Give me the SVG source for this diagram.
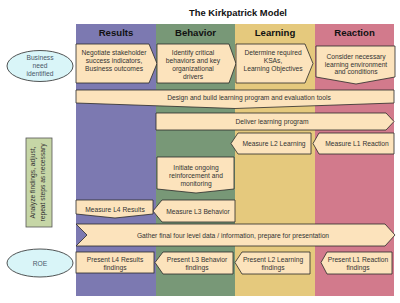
<svg xmlns="http://www.w3.org/2000/svg" width="400" height="303" viewBox="0 0 400 303">
<style>
.box{fill:#FCE3BC;stroke:#2a2a2a;stroke-width:0.8;stroke-linejoin:miter}
.t{font-family:"Liberation Sans",Arial,sans-serif;font-size:6.7px;fill:#333;text-anchor:middle}
.h{font-family:"Liberation Sans",Arial,sans-serif;font-size:9.6px;font-weight:bold;fill:#111;text-anchor:middle}
.ell{fill:#D9F5F8;stroke:#2a2a2a;stroke-width:0.8}
.et{font-family:"Liberation Sans",Arial,sans-serif;font-size:6.7px;fill:#4a5868;text-anchor:middle}
</style>
<rect width="400" height="303" fill="#fff"/>
<text x="238" y="16" font-family="Liberation Sans, Arial, sans-serif" font-size="9.4" font-weight="bold" fill="#111" text-anchor="middle">The Kirkpatrick Model</text>

<g id="columns">
<rect x="76" y="24" width="80" height="272" fill="#7C79B1"/>
<rect x="156" y="24" width="79" height="272" fill="#789877"/>
<rect x="235" y="24" width="80" height="272" fill="#E5C97D"/>
<rect x="315" y="24" width="79" height="272" fill="#D27A8C"/>
<text class="h" x="116" y="36">Results</text>
<text class="h" x="195.5" y="36">Behavior</text>
<text class="h" x="275" y="36">Learning</text>
<text class="h" x="354.5" y="36">Reaction</text>
</g>

<g id="business-need">
<ellipse class="ell" cx="40" cy="66" rx="33" ry="15.5"/>
<text class="et" x="40" y="59.5">Business</text>
<text class="et" x="40" y="67.5">need</text>
<text class="et" x="40" y="75.5">identified</text>
</g>

<g id="analyze">
<rect x="26" y="138" width="26" height="89" fill="#C6D6A6" stroke="#555" stroke-width="0.8"/>
<g transform="translate(39,182.5) rotate(-90)">
<text class="t" x="0" y="-4">Analyze findings, adjust,</text>
<text class="t" x="0" y="5.5">repeat steps as necessary</text>
</g>
</g>

<g id="roe">
<ellipse class="ell" cx="40" cy="263" rx="33" ry="14"/>
<text class="et" x="40" y="265.5">ROE</text>
</g>

<g id="negotiate">
<path class="box" d="M76,44 H149 L157,63.5 L149,83 H76 Z"/>
<text class="t" x="114" y="54.5">Negotiate stakeholder</text>
<text class="t" x="114" y="62.5">success indicators,</text>
<text class="t" x="114" y="70.5">Business outcomes</text>
</g>

<g id="identify">
<path class="box" d="M157,44 H229 L236,63.5 L229,83 H157 Z"/>
<text class="t" x="193" y="54.5">Identify critical</text>
<text class="t" x="193" y="62.5">behaviors and key</text>
<text class="t" x="193" y="70.5">organizational</text>
<text class="t" x="193" y="78.5">drivers</text>
</g>

<g id="determine">
<path class="box" d="M236,44 H305 L313,63.5 L305,83 H236 Z"/>
<text class="t" x="273" y="54.5">Determine required</text>
<text class="t" x="273" y="62.5">KSAs,</text>
<text class="t" x="273" y="70.5">Learning Objectives</text>
</g>

<g id="consider">
<path class="box" d="M316,46 H395 V77 L356,84 L316,77 Z"/>
<text class="t" x="356" y="59">Consider necessary</text>
<text class="t" x="356" y="66.5">learning environment</text>
<text class="t" x="356" y="74">and conditions</text>
</g>

<g id="design">
<path class="box" d="M76,90 H394 V103 L235,108.5 L76,103 Z"/>
<text class="t" x="249" y="100">Design and build learning program and evaluation tools</text>
</g>

<g id="deliver">
<path class="box" d="M156,113 H386 L394,121.5 L386,130 H156 Z"/>
<text class="t" x="272" y="124">Deliver learning program</text>
</g>

<g id="measure-l2">
<path class="box" d="M231,143.5 L238,133 H311 V154 H238 Z"/>
<text class="t" x="274" y="146">Measure L2 Learning</text>
</g>

<g id="measure-l1">
<path class="box" d="M313,143.5 L319,133 H394 V154 H319 Z"/>
<text class="t" x="357" y="146">Measure L1 Reaction</text>
</g>

<g id="initiate">
<path class="box" d="M157,157 H234 V189 L196,193 L157,189 Z"/>
<text class="t" x="196" y="169.5">Initiate ongoing</text>
<text class="t" x="196" y="177.5">reinforcement and</text>
<text class="t" x="196" y="186">monitoring</text>
</g>

<g id="measure-l4">
<path class="box" d="M76,200 H153 V214 L115,218 L76,214 Z"/>
<text class="t" x="115" y="211.5">Measure L4 Results</text>
</g>

<g id="measure-l3">
<path class="box" d="M153,211 L162,200 H235 V222 H162 Z"/>
<text class="t" x="198" y="213.5">Measure L3 Behavior</text>
</g>

<g id="gather">
<path class="box" d="M76,224 H385 L395,235 L385,246 H76 L87,235 Z"/>
<text class="t" x="233" y="237.5">Gather final four level data / information, prepare for presentation</text>
</g>

<g id="present-l4">
<rect class="box" x="76" y="252" width="78" height="21"/>
<text class="t" x="115" y="262">Present L4 Results</text>
<text class="t" x="115" y="270">findings</text>
</g>

<g id="present-l3">
<path class="box" d="M155,262.5 L163,252 H233 V274 H163 Z"/>
<text class="t" x="197" y="262">Present L3 Behavior</text>
<text class="t" x="197" y="270">findings</text>
</g>

<g id="present-l2">
<path class="box" d="M235,262.5 L242,252 H310 V274 H242 Z"/>
<text class="t" x="273" y="262">Present L2 Learning</text>
<text class="t" x="273" y="270">findings</text>
</g>

<g id="present-l1">
<path class="box" d="M321,262.5 L327,252 H392 V274 H327 Z"/>
<text class="t" x="358" y="262">Present L1 Reaction</text>
<text class="t" x="358" y="270">findings</text>
</g>

<g id="connectors"></g>
</svg>
